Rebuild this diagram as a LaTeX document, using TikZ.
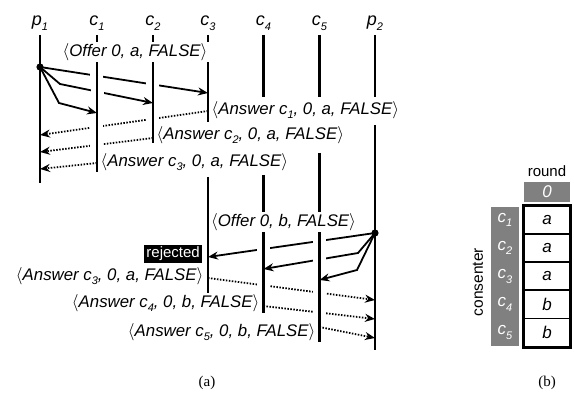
\documentclass[tikz,border=0pt]{standalone}
\usepackage{fontspec}
\setmainfont{Liberation Sans}
\newfontfamily\capfont{Liberation Serif}
\usetikzlibrary{arrows.meta}
\definecolor{boxgray}{RGB}{128, 128, 128}
\newcommand{\sbs}[1]{\raisebox{-0.5ex}{\fontsize{11}{11}\selectfont #1}}
\newcommand{\crossgap}[3]{\fill[white] (intersection of #1--#2 and #3t--#3u) +(-6.5,-5.5) rectangle +(6.5,5.5);}

\begin{document}
\begin{tikzpicture}[x=1pt, y=-1pt,
    every node/.style={font=\fontsize{15}{18}\selectfont},
    who/.style={font=\fontsize{18}{20}\selectfont\itshape, inner sep=0pt},
    msg/.style={font=\fontsize{16.8}{19}\selectfont\itshape, fill=white, inner sep=1.5pt},
    life/.style={line width=2.2pt},
    arr/.style={-{Stealth[length=10pt, width=8pt]}, line width=1.8pt},
    ans/.style={arr, dash pattern=on 1.5pt off 1.5pt},
    rej/.style={fill=black, text=white, font=\fontsize{15}{17}\selectfont,
                inner sep=2pt, minimum height=18pt},
    cell/.style={draw, line width=1.7pt, minimum width=46pt, minimum height=28.1pt,
                 inner sep=0pt, font=\fontsize{17}{19}\selectfont\itshape},
    hdr/.style={text=white, font=\fontsize{17}{19}\selectfont\itshape, inner sep=0pt},
    subcap/.style={font=\fontsize{15}{17}\capfont}
  ]
    \useasboundingbox (0,0) rectangle (574,396);

    % participants
    \foreach \n/\l/\s/\x in {p1/p/1/40, c1/c/1/97, c2/c/2/153, c3/c/3/208,
                             c4/c/4/263.5, c5/c/5/319.5, p2/p/2/375} {
      \node[who] (\n) at (\x,23) {\l\sbs{\s}};
      \coordinate (\n t) at (\x,35);
      \coordinate (\n u) at (\x,350);
    }

    % round 0, value a from p1
    \coordinate (sa) at (40,67);
    \coordinate (ka2) at (60,84);
    \coordinate (ka1) at (59,103);
    \coordinate (ea3) at (208,93);
    \coordinate (ea2) at (153,103);
    \coordinate (ea1) at (97,113);
    \coordinate (ra1) at (208,111);
    \coordinate (qa1) at (40,135);
    \coordinate (ra2) at (153,138);
    \coordinate (qa2) at (40,152);
    \coordinate (ra3) at (97,163);
    \coordinate (qa3) at (40,169);

    % round 0, value b from p2
    \coordinate (sb) at (375,233);
    \coordinate (kb4) at (358,253);
    \coordinate (kb5) at (357,270);
    \coordinate (eb3) at (208,257);
    \coordinate (eb4) at (263.5,269);
    \coordinate (eb5) at (319.5,280);
    \coordinate (rb3) at (208,278);
    \coordinate (qb3) at (375,300);
    \coordinate (rb4) at (263.5,306);
    \coordinate (qb4) at (375,319);
    \coordinate (rb5) at (319.5,327);
    \coordinate (qb5) at (375,338);

    \draw[arr] (sa) -- (ea3);
    \draw[arr] (sa) -- (ka2) -- (ea2);
    \draw[arr] (sa) -- (ka1) -- (ea1);
    \draw[ans] (ra1) -- (qa1);
    \draw[ans] (ra2) -- (qa2);
    \draw[ans] (ra3) -- (qa3);

    \draw[arr] (sb) -- (eb3);
    \draw[arr] (sb) -- (kb4) -- (eb4);
    \draw[arr] (sb) -- (kb5) -- (eb5);
    \draw[ans] (rb3) -- (qb3);
    \draw[ans] (rb4) -- (qb4);
    \draw[ans] (rb5) -- (qb5);

    % breaks where a message passes a lifeline
    \crossgap{sa}{ea3}{c1}
    \crossgap{sa}{ea3}{c2}
    \crossgap{ka2}{ea2}{c1}
    \crossgap{ra1}{qa1}{c2}
    \crossgap{ra1}{qa1}{c1}
    \crossgap{ra2}{qa2}{c1}
    \crossgap{sb}{eb3}{c5}
    \crossgap{sb}{eb3}{c4}
    \crossgap{kb4}{eb4}{c5}
    \crossgap{rb3}{qb3}{c4}
    \crossgap{rb3}{qb3}{c5}
    \crossgap{rb4}{qb4}{c5}

    % lifelines
    \foreach \x/\a/\b in {40/35/183, 97/35/172, 153/35/143, 208/35/122, 208/177/293,
                          263.5/35/97, 263.5/175/313, 319.5/35/97, 319.5/153/342,
                          375/35/97, 375/125/350}
      \draw[life] (\x,\a) -- (\x,\b);
    \fill (sa) circle (3.6);
    \fill (sb) circle (3.6);

    % messages
    \node[msg] (offa) at (135,52) {$\langle$Offer 0, a, FALSE$\rangle$};
    \node[msg, anchor=west] (ansa1) at (210,110) {$\langle$Answer c\sbs{1}, 0, a, FALSE$\rangle$};
    \node[msg, anchor=west] (ansa2) at (155,135) {$\langle$Answer c\sbs{2}, 0, a, FALSE$\rangle$};
    \node[msg, anchor=west] (ansa3) at (99,162) {$\langle$Answer c\sbs{3}, 0, a, FALSE$\rangle$};
    \node[msg] (offb) at (283.5,222) {$\langle$Offer 0, b, FALSE$\rangle$};
    \node[rej, anchor=east] (rej) at (202,254) {rejected};
    \node[msg, anchor=east] (ansb3) at (205,276) {$\langle$Answer c\sbs{3}, 0, a, FALSE$\rangle$};
    \node[msg, anchor=east] (ansb4) at (261,303) {$\langle$Answer c\sbs{4}, 0, b, FALSE$\rangle$};
    \node[msg, anchor=east] (ansb5) at (317,332) {$\langle$Answer c\sbs{5}, 0, b, FALSE$\rangle$};

    % table (b)
    \node[font=\fontsize{15}{17}\selectfont] (rnd) at (547,171) {round};
    \fill[boxgray] (524,182) rectangle (570,202);
    \node[hdr] (r0) at (547,192) {0};
    \fill[boxgray] (491,207) rectangle (519,346);
    \foreach \v [count=\i] in {a, a, a, b, b} {
      \node[cell] (v\i) at (547,{206+14.05+28.1*(\i-1)}) {\v};
      \node[hdr] (k\i) at (505,{206+14.05+28.1*(\i-1)}) {c\sbs{\i}};
    }
    \draw[line width=2.4pt] (v1.north west) rectangle (v5.south east);
    \node[rotate=90, font=\fontsize{15.5}{17}\selectfont] (cons) at (478,282) {consenter};

    \node[subcap] (capa) at (207,383) {(a)};
    \node[subcap] (capb) at (547,383) {(b)};
\end{tikzpicture}
\end{document}
